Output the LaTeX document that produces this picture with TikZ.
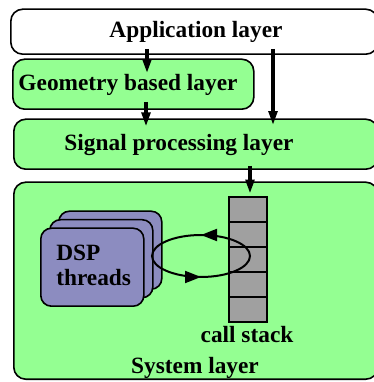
\documentclass[tikz,border=0pt]{standalone}
\usepackage{fontspec}
\setmainfont{Liberation Serif}
\usetikzlibrary{arrows.meta,decorations.markings}

\definecolor{laygreen}{RGB}{148,255,146}
\definecolor{thrpurple}{RGB}{140,140,192}
\definecolor{stackgray}{RGB}{160,160,160}

\tikzset{
  layer/.style={draw,line width=1.2pt,rounded corners=9pt,fill=laygreen,inner sep=0pt,anchor=south west},
  thread/.style={draw,line width=1.2pt,rounded corners=8pt,fill=thrpurple,inner sep=0pt,anchor=south west,
    minimum width=77.25pt,minimum height=58.5pt},
  cell/.style={draw,line width=1.2pt,fill=stackgray,inner sep=0pt,minimum width=28.5pt,minimum height=18.75pt},
  lab/.style={font=\fontsize{17.5}{19}\selectfont\bfseries,inner sep=0pt},
  arr/.style={line width=2.5pt,-{Triangle[length=10.5pt,width=6.5pt]}},
}

\begin{document}
\begin{tikzpicture}[x=0.75pt,y=0.75pt]
\useasboundingbox (0,0) rectangle (374,382);
\clip (0,0) rectangle (374,382);

% layers
\node[layer,fill=white,minimum width=275.25pt,minimum height=33.75pt] (app) at (10,327) {};
\node[layer,minimum width=180.75pt,minimum height=37.5pt] (geo) at (12,272) {};
\node[layer,minimum width=273pt,minimum height=37.5pt] (sig) at (13,212) {};
\node[layer,minimum width=273pt,minimum height=147.75pt] (sys) at (13,2) {};

\node[lab] (apptxt) at (196,350) {Application layer};
\node[lab] (geotxt) at (128,297) {Geometry based layer};
\node[lab] (sigtxt) at (179,237) {Signal processing layer};
\node[lab] (systxt) at (195,14) {System layer};

% x positions of the arrows
\coordinate (gx) at (147,0);
\coordinate (hx) at (146,0);
\coordinate (sx) at (273,0);
\coordinate (kx) at (250,0);

% DSP threads
\foreach \k in {2,1,0}
  \node[thread] (thr\k) at (40+9*\k,75+8.5*\k) {};
\node[lab,anchor=west,align=left] (dsp) at (56,116.5) {DSP\\threads};

% call stack
\foreach \i in {0,...,4}
  \node[cell] (cell\i) at (248,172.5-25*\i) {};
\node[lab] (stacktxt) at (247,47) {call stack};

% arrows between layers
\draw[arr] ([yshift=4.5pt]app.south -| gx) -- ([yshift=-11pt]geo.north -| gx);
\draw[arr] ([yshift=6pt]geo.south -| hx) -- ([yshift=-6pt]sig.north -| hx);
\draw[arr] ([yshift=4.5pt]app.south -| sx) -- ([yshift=-5pt]sig.north -| sx);
\draw[arr] ([yshift=3pt]sig.south -| kx) -- ([yshift=2pt]cell0.north -| kx);

% calls going round
\draw[line width=1.5pt,
  postaction={decorate,decoration={markings,
    mark=at position 0.25 with {\arrow{Triangle[length=12pt,width=9pt]}},
    mark=at position 0.75 with {\arrow{Triangle[length=12pt,width=9pt]}}}}]
  (201,126) ellipse [x radius=36.75pt,y radius=15.75pt];
\end{tikzpicture}
\end{document}
